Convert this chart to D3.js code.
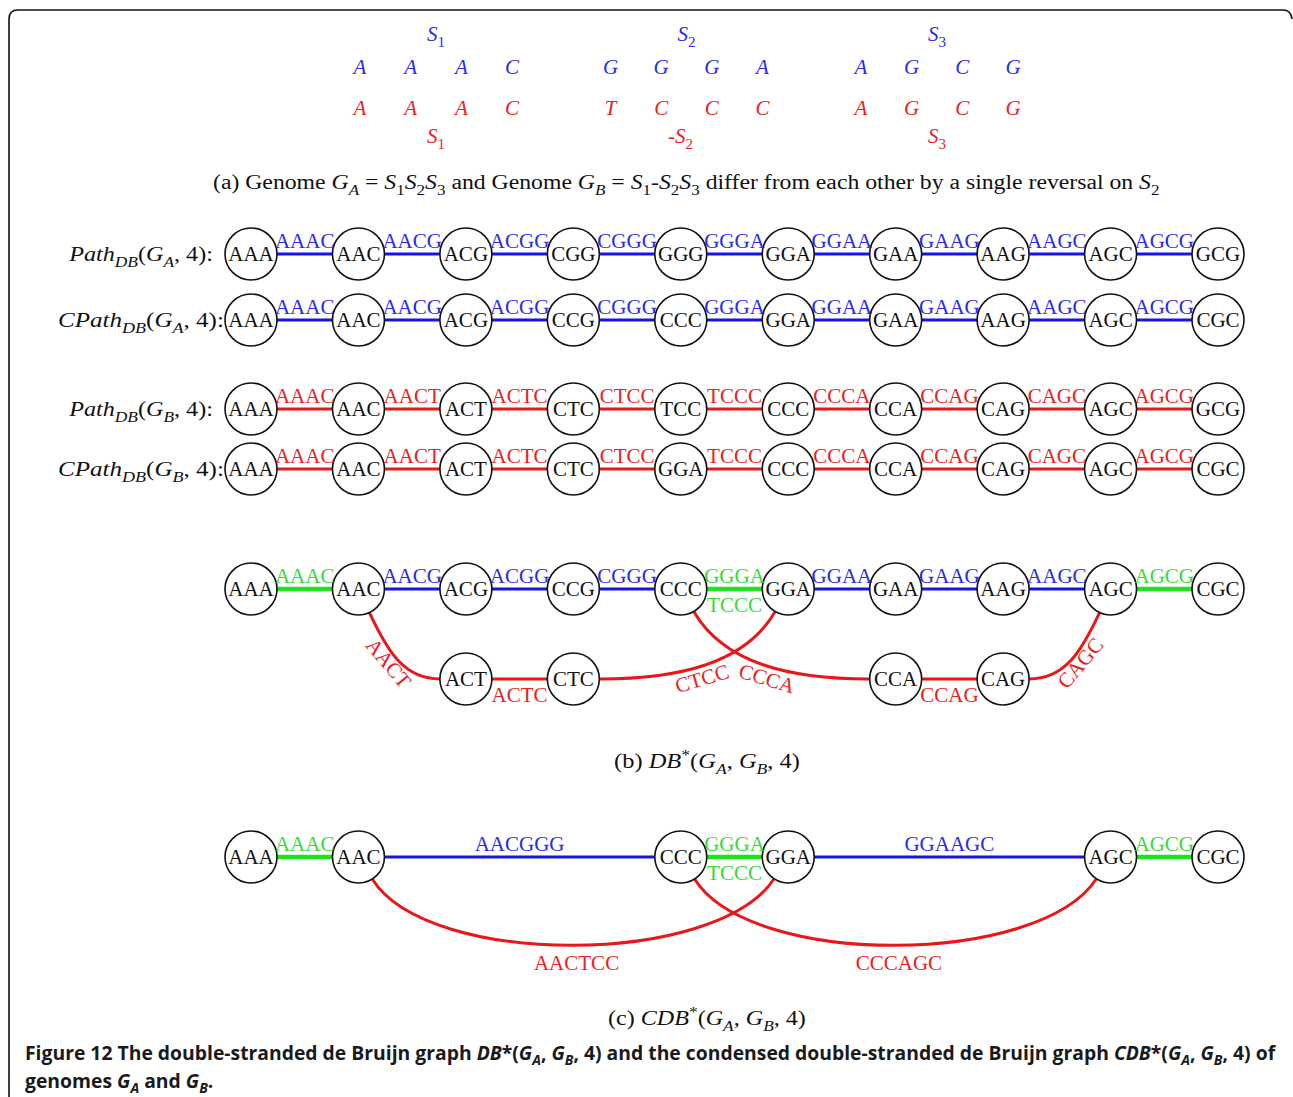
<!DOCTYPE html>
<html>
<head>
<meta charset="utf-8">
<script src="https://cdn.jsdelivr.net/npm/d3@7"></script>
<style>
  body { margin: 0; background: #fff; }
  svg { display: block; }
  text { white-space: pre; }
</style>
</head>
<body>
<svg id="fig" width="1293" height="1097"></svg>
<script>
// ---------- data ----------
// (a) the two genomes, segment by segment
const segmentNames = ["S1", "S2", "S3"];
const genomeALetters = [["A", "A", "A", "C"], ["G", "G", "G", "A"], ["A", "G", "C", "G"]];
const genomeBLetters = [["A", "A", "A", "C"], ["T", "C", "C", "C"], ["A", "G", "C", "G"]];
const genomeBSigns = ["", "-", ""];

// de Bruijn paths (k = 4): nodes are 3-mers, edges are 4-mers
const rowPrefixes = ["Path", "CPath", "Path", "CPath"];
const rowGenomes = ["A", "A", "B", "B"];
const pathGANodes = ["AAA", "AAC", "ACG", "CGG", "GGG", "GGA", "GAA", "AAG", "AGC", "GCG"];
const pathGAEdges = ["AAAC", "AACG", "ACGG", "CGGG", "GGGA", "GGAA", "GAAG", "AAGC", "AGCG"];
const cpathGANodes = ["AAA", "AAC", "ACG", "CCG", "CCC", "GGA", "GAA", "AAG", "AGC", "CGC"];
const cpathGAEdges = ["AAAC", "AACG", "ACGG", "CGGG", "GGGA", "GGAA", "GAAG", "AAGC", "AGCG"];
const pathGBNodes = ["AAA", "AAC", "ACT", "CTC", "TCC", "CCC", "CCA", "CAG", "AGC", "GCG"];
const pathGBEdges = ["AAAC", "AACT", "ACTC", "CTCC", "TCCC", "CCCA", "CCAG", "CAGC", "AGCG"];
const cpathGBNodes = ["AAA", "AAC", "ACT", "CTC", "GGA", "CCC", "CCA", "CAG", "AGC", "CGC"];
const cpathGBEdges = ["AAAC", "AACT", "ACTC", "CTCC", "TCCC", "CCCA", "CCAG", "CAGC", "AGCG"];

// (b) DB*(GA, GB, 4)
const dbTopNodes = ["AAA", "AAC", "ACG", "CCG", "CCC", "GGA", "GAA", "AAG", "AGC", "CGC"];
const dbTopEdges = ["AAAC", "AACG", "ACGG", "CGGG", "GGGA", "GGAA", "GAAG", "AAGC", "AGCG"];
const dbTopStrands = ["AB", "A", "A", "A", "AB", "A", "A", "A", "AB"];
const dbTwinLabels = ["", "", "", "", "TCCC", "", "", "", ""];
const dbLowNodes = ["ACT", "CTC", "CCA", "CAG"];
const dbLowColumns = [2, 3, 6, 7];
const dbBEdges = [
  ["AACT", "AAC", "ACT"], ["ACTC", "ACT", "CTC"], ["CTCC", "CTC", "GGA"],
  ["CCCA", "CCC", "CCA"], ["CCAG", "CCA", "CAG"], ["CAGC", "CAG", "AGC"]
];

// (c) CDB*(GA, GB, 4)
const cdbNodes = ["AAA", "AAC", "CCC", "GGA", "AGC", "CGC"];
const cdbColumns = [0, 1, 4, 5, 8, 9];
const cdbEdges = [
  ["AAAC", "AAA", "AAC", "AB"], ["AACGGG", "AAC", "CCC", "A"], ["GGGA", "CCC", "GGA", "AB"],
  ["GGAAGC", "GGA", "AGC", "A"], ["AGCG", "AGC", "CGC", "AB"],
  ["AACTCC", "AAC", "GGA", "B"], ["CCCAGC", "CCC", "AGC", "B"]
];
const cdbTwinLabels = [["TCCC", "CCC", "GGA"]];

// ---------- styling ----------
const SERIF = "'Liberation Serif', 'DejaVu Serif', serif";
const SANS = "'Liberation Sans Narrow', 'Open Sans', 'Noto Sans', sans-serif";
const strandStroke = { A: "#1515e8", B: "#e81818", AB: "#1ee31e" };
const strandText = { A: "#2b2bea", B: "#ea2222", AB: "#35dc35" };
const strandWidth = { A: 3, B: 3, AB: 4.5 };
const R = 26;
const FS = 21;

const svg = d3.select("#fig");

// outer frame with rounded top corners
svg.append("path")
  .attr("d", "M9,1097 V19 Q9,10 18,10 H1283 Q1291,10 1292,19")
  .attr("fill", "none").attr("stroke", "#111").attr("stroke-width", 1.6);

// math-style text: parts are [string, kind]; kind r / i / subr / subi / supr
function mathText(parent, x, y, parts, opt) {
  const size = opt.size || FS;
  const t = parent.append("text")
    .attr("x", x).attr("y", y)
    .attr("font-family", opt.family || SERIF)
    .attr("font-size", size)
    .attr("font-weight", opt.weight || "normal")
    .attr("fill", opt.color || "#111")
    .attr("text-anchor", opt.anchor || "start");
  let shift = 0;
  parts.forEach(([s, k]) => {
    const target = k.startsWith("sub") ? size * 0.28 : k.startsWith("sup") ? -size * 0.4 : 0;
    const ts = t.append("tspan").text(s).attr("dy", (target - shift).toFixed(2));
    shift = target;
    ts.attr("font-style", k.endsWith("i") ? "italic" : "normal");
    if (target !== 0) ts.attr("font-size", size * 0.72);
  });
  return t;
}
// stretch a text horizontally so that it spans [x0, x1]
function spanText(t, x0, x1) {
  const bb = t.node().getBBox();
  const s = (x1 - x0) / bb.width;
  t.attr("transform", `translate(${x0},0) scale(${s},1) translate(${-bb.x},0)`);
  return s;
}

// columns shared by every row of nodes
const colX = d3.scalePoint().domain(d3.range(10)).range([251, 1218]);

// ---------- (a) genomes ----------
const groupX = d3.scalePoint().domain(d3.range(3)).range([436, 937]);
const letterDX = d3.scalePoint().domain(d3.range(4)).range([-76, 76]);
const aY = { topName: 41, lettersA: 74, lettersB: 115, lowName: 143 };

const partA = svg.append("g");
segmentNames.forEach((name, gi) => {
  const gx = groupX(gi);
  mathText(partA, gx, aY.topName, [[name[0], "i"], [name.slice(1), "subr"]],
    { color: strandText.A, anchor: "middle" });
  genomeALetters[gi].forEach((L, li) => {
    partA.append("text").attr("x", gx + letterDX(li)).attr("y", aY.lettersA)
      .attr("font-family", SERIF).attr("font-style", "italic").attr("font-size", FS)
      .attr("fill", strandText.A).attr("text-anchor", "middle").text(L);
  });
  genomeBLetters[gi].forEach((L, li) => {
    partA.append("text").attr("x", gx + letterDX(li)).attr("y", aY.lettersB)
      .attr("font-family", SERIF).attr("font-style", "italic").attr("font-size", FS)
      .attr("fill", strandText.B).attr("text-anchor", "middle").text(L);
  });
  const parts = [];
  if (genomeBSigns[gi]) parts.push([genomeBSigns[gi], "r"]);
  parts.push([name[0], "i"], [name.slice(1), "subr"]);
  mathText(partA, gx - (genomeBSigns[gi] ? 6 : 0), aY.lowName, parts,
    { color: strandText.B, anchor: "middle" });
});

spanText(mathText(partA, 0, 189, [
  ["(a) Genome ", "r"], ["G", "i"], ["A", "subi"], [" = ", "r"],
  ["S", "i"], ["1", "subr"], ["S", "i"], ["2", "subr"], ["S", "i"], ["3", "subr"],
  [" and Genome ", "r"], ["G", "i"], ["B", "subi"], [" = ", "r"],
  ["S", "i"], ["1", "subr"], ["-", "r"], ["S", "i"], ["2", "subr"], ["S", "i"], ["3", "subr"],
  [" differ from each other by a single reversal on ", "r"], ["S", "i"], ["2", "subr"]
], { size: 20.5 }), 213, 1160);

// ---------- drawing helpers ----------
function drawNode(parent, x, y, label) {
  parent.append("circle").attr("cx", x).attr("cy", y).attr("r", R)
    .attr("fill", "#fff").attr("stroke", "#111").attr("stroke-width", 1.6);
  parent.append("text").attr("x", x).attr("y", y + 7)
    .attr("font-family", SERIF).attr("font-size", FS).attr("fill", "#111")
    .attr("text-anchor", "middle").text(label);
}
function edgeLabel(parent, x, y, label, strand, below) {
  parent.append("text").attr("x", x).attr("y", below ? y + 23 : y - 6)
    .attr("font-family", SERIF).attr("font-size", FS).attr("fill", strandText[strand])
    .attr("text-anchor", "middle").text(label);
}
function straight(parent, x1, x2, y, strand) {
  parent.append("line").attr("x1", x1).attr("x2", x2).attr("y1", y).attr("y2", y)
    .attr("stroke", strandStroke[strand]).attr("stroke-width", strandWidth[strand]);
}

// ---------- de Bruijn paths ----------
const rowY = [254, 320, 409, 469];
const rowLabelSpan = [[68, 213], [58, 224], [68, 213], [58, 224]];
const rowNodes = [pathGANodes, cpathGANodes, pathGBNodes, cpathGBNodes];
const rowEdges = [pathGAEdges, cpathGAEdges, pathGBEdges, cpathGBEdges];

const paths = svg.append("g");
rowNodes.forEach((nodes, ri) => {
  const y = rowY[ri];
  const strand = rowGenomes[ri];
  const g = paths.append("g");
  spanText(mathText(g, 0, y + 7, [
    [rowPrefixes[ri], "i"], ["DB", "subi"], ["(", "r"], ["G", "i"], [strand, "subi"], [", 4):", "r"]
  ], {}), rowLabelSpan[ri][0], rowLabelSpan[ri][1]);
  rowEdges[ri].forEach((e, i) => straight(g, colX(i), colX(i + 1), y, strand));
  nodes.forEach((n, i) => drawNode(g, colX(i), y, n));
  rowEdges[ri].forEach((e, i) => edgeLabel(g, (colX(i) + colX(i + 1)) / 2, y, e, strand, false));
});

// ---------- (b) DB* graph ----------
const dbY = { top: 589, low: 679 };
const partB = svg.append("g");
const dbPos = new Map();
dbTopNodes.forEach((n, i) => dbPos.set(n, { x: colX(i), y: dbY.top, top: true }));
dbLowNodes.forEach((n, i) => dbPos.set(n, { x: colX(dbLowColumns[i]), y: dbY.low, top: false }));

function bez(p, t) {
  const u = 1 - t;
  const w = [u * u * u, 3 * u * u * t, 3 * u * t * t, t * t * t];
  return [0, 1].map(d => w[0] * p[0][d] + w[1] * p[1][d] + w[2] * p[2][d] + w[3] * p[3][d]);
}
function bezTangent(p, t) {
  const u = 1 - t;
  return [0, 1].map(d => 3 * u * u * (p[1][d] - p[0][d]) + 6 * u * t * (p[2][d] - p[1][d]) + 3 * t * t * (p[3][d] - p[2][d]));
}
// label set along a curve, on its outer (lower) side
function curvedLabel(parent, p, t, label, strand, dist) {
  const m = bez(p, t);
  let [tx, ty] = bezTangent(p, t);
  if (tx < 0) { tx = -tx; ty = -ty; }
  const len = Math.hypot(tx, ty);
  tx /= len; ty /= len;
  let nx = -ty, ny = tx;
  if (ny < 0) { nx = -nx; ny = -ny; }
  const cx = m[0] + nx * dist, cy = m[1] + ny * dist;
  const ang = Math.atan2(ty, tx) * 180 / Math.PI;
  parent.append("text")
    .attr("transform", `translate(${cx},${cy}) rotate(${ang})`)
    .attr("y", 7)
    .attr("font-family", SERIF).attr("font-size", FS).attr("fill", strandText[strand])
    .attr("text-anchor", "middle").text(label);
}

const bEdgeG = partB.append("g");
const bNodeG = partB.append("g");
const bLabelG = partB.append("g");
dbTopEdges.forEach((e, i) => {
  const s = dbTopStrands[i];
  straight(bEdgeG, colX(i), colX(i + 1), dbY.top, s);
  edgeLabel(bLabelG, (colX(i) + colX(i + 1)) / 2, dbY.top, e, s, false);
  if (dbTwinLabels[i]) edgeLabel(bLabelG, (colX(i) + colX(i + 1)) / 2, dbY.top, dbTwinLabels[i], s, true);
});
dbBEdges.forEach(([label, from, to]) => {
  const a = dbPos.get(from), b = dbPos.get(to);
  if (a.top === b.top) {
    straight(bEdgeG, a.x, b.x, a.y, "B");
    edgeLabel(bLabelG, (a.x + b.x) / 2, a.y, label, "B", true);
    return;
  }
  const up = a.top ? a : b, lo = a.top ? b : a;
  const dir = lo.x > up.x ? 1 : -1;
  const span = Math.round(Math.abs(lo.x - up.x) / colX.step());
  const th = (90 - dir * (span === 1 ? 25 : 30)) * Math.PI / 180;
  const k1 = span === 1 ? 45 : 60, k2 = span === 1 ? 35 : 80;
  const p0 = [up.x + R * Math.cos(th), up.y + R * Math.sin(th)];
  const p1 = [p0[0] + k1 * Math.cos(th), p0[1] + k1 * Math.sin(th)];
  const p3 = [lo.x - dir * R, lo.y];
  const p2 = [p3[0] - dir * k2, p3[1]];
  const pts = [p0, p1, p2, p3];
  bEdgeG.append("path")
    .attr("d", `M${p0}C${p1} ${p2} ${p3}`)
    .attr("fill", "none").attr("stroke", strandStroke.B).attr("stroke-width", strandWidth.B);
  if (span === 1) curvedLabel(bLabelG, pts, 0.45, label, "B", 9);
  else curvedLabel(bLabelG, pts, 0.54, label, "B", 12);
});
dbPos.forEach((p, n) => drawNode(bNodeG, p.x, p.y, n));

spanText(mathText(svg, 0, 768, [
  ["(b) ", "r"], ["DB", "i"], ["*", "supr"], ["(", "r"], ["G", "i"], ["A", "subi"], [", ", "r"],
  ["G", "i"], ["B", "subi"], [", 4)", "r"]
], { size: 20.5 }), 614, 800);

// ---------- (c) condensed DB* graph ----------
const cdbYTop = 857;
const partC = svg.append("g");
const cPos = new Map();
cdbNodes.forEach((n, i) => cPos.set(n, colX(cdbColumns[i])));
const cEdgeG = partC.append("g"), cNodeG = partC.append("g"), cLabelG = partC.append("g");
cdbEdges.forEach(([label, from, to, s]) => {
  const x1 = cPos.get(from), x2 = cPos.get(to);
  if (s !== "B") {
    straight(cEdgeG, x1, x2, cdbYTop, s);
    edgeLabel(cLabelG, (x1 + x2) / 2, cdbYTop, label, s, false);
    return;
  }
  const t0 = 58 * Math.PI / 180, t1 = 123 * Math.PI / 180, k = 105;
  const p0 = [x1 + R * Math.cos(t0), cdbYTop + R * Math.sin(t0)];
  const p1 = [p0[0] + k * Math.cos(t0), p0[1] + k * Math.sin(t0)];
  const p3 = [x2 + R * Math.cos(t1), cdbYTop + R * Math.sin(t1)];
  const p2 = [p3[0] + k * Math.cos(t1), p3[1] + k * Math.sin(t1)];
  cEdgeG.append("path")
    .attr("d", `M${p0}C${p1} ${p2} ${p3}`)
    .attr("fill", "none").attr("stroke", strandStroke.B).attr("stroke-width", strandWidth.B);
  const m = bez([p0, p1, p2, p3], 0.5);
  cLabelG.append("text").attr("x", m[0] + 4).attr("y", m[1] + 25)
    .attr("font-family", SERIF).attr("font-size", FS).attr("fill", strandText.B)
    .attr("text-anchor", "middle").text(label);
});
cdbTwinLabels.forEach(([label, from, to]) => {
  edgeLabel(cLabelG, (cPos.get(from) + cPos.get(to)) / 2, cdbYTop, label, "AB", true);
});
cPos.forEach((x, n) => drawNode(cNodeG, x, cdbYTop, n));

spanText(mathText(svg, 0, 1025, [
  ["(c) ", "r"], ["CDB", "i"], ["*", "supr"], ["(", "r"], ["G", "i"], ["A", "subi"], [", ", "r"],
  ["G", "i"], ["B", "subi"], [", 4)", "r"]
], { size: 20.5 }), 608, 806);

// ---------- figure caption ----------
const cap = svg.append("g");
const capOpt = { family: SANS, weight: "bold", size: 19.5, color: "#1a1a1a" };
const line1 = mathText(cap, 25, 1060, [
  ["Figure 12 The double-stranded de Bruijn graph ", "r"], ["DB", "i"], ["*(", "r"],
  ["G", "i"], ["A", "subi"], [", ", "r"], ["G", "i"], ["B", "subi"], [", 4) and the condensed double-stranded de Bruijn graph ", "r"],
  ["CDB", "i"], ["*(", "r"], ["G", "i"], ["A", "subi"], [", ", "r"], ["G", "i"], ["B", "subi"], [", 4) of", "r"]
], capOpt);
const line2 = mathText(cap, 25, 1088, [
  ["genomes ", "r"], ["G", "i"], ["A", "subi"], [" and ", "r"], ["G", "i"], ["B", "subi"], [".", "r"]
], capOpt);
const sx = 1253 / line1.node().getBBox().width;
[line1, line2].forEach(l => l.attr("transform", `translate(25,0) scale(${sx},1) translate(-25,0)`));
</script>
</body>
</html>
